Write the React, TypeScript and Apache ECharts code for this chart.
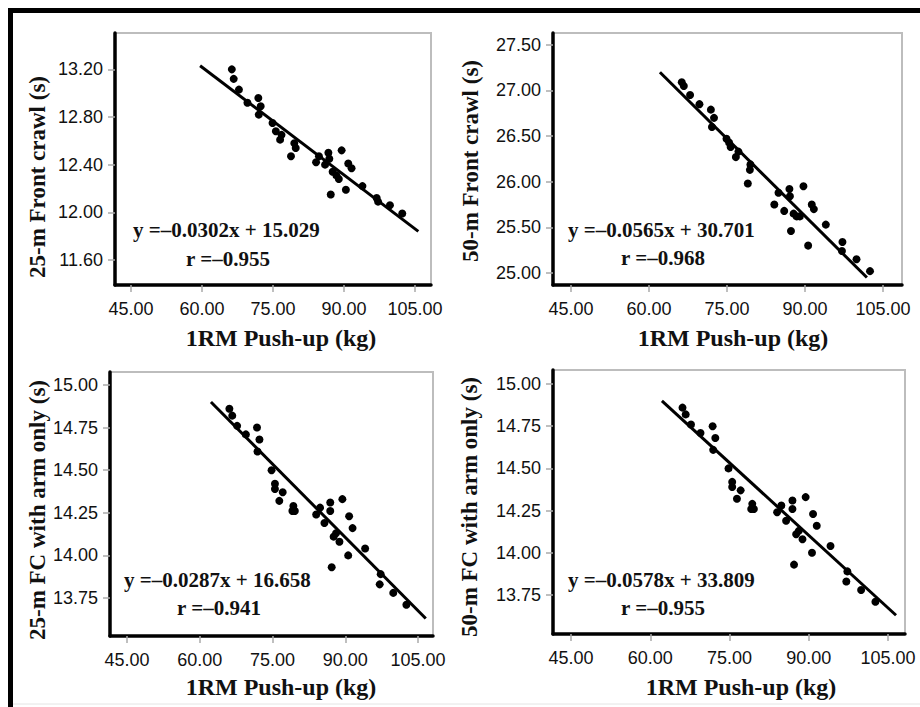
import React, { useEffect, useRef } from "react";
import * as echarts from "echarts";

// Shared x tick labels (1RM Push-up, kg)
const xTickValues = [45, 60, 75, 90, 105];

// Panel 1: 25-m Front crawl
const p1X = [66.3, 66.7, 67.8, 69.6, 71.9, 72.4, 72.0, 74.9, 75.6, 76.8, 76.5, 79.5, 79.8, 78.8, 84.1, 84.7, 86.0, 86.7, 86.9, 89.5, 87.6, 88.4, 88.9, 90.9, 91.6, 87.2, 90.4, 93.9, 96.9, 97.2, 99.7, 102.3];
const p1Y = [13.2, 13.12, 13.03, 12.92, 12.96, 12.89, 12.82, 12.75, 12.68, 12.65, 12.61, 12.58, 12.54, 12.47, 12.42, 12.47, 12.4, 12.5, 12.45, 12.52, 12.34, 12.31, 12.28, 12.41, 12.37, 12.15, 12.19, 12.22, 12.12, 12.09, 12.06, 11.99];
const p1YTicks = [11.6, 12.0, 12.4, 12.8, 13.2];
const p1FitX = [59.6, 105.7];
const p1FitY = [13.23, 11.84];

// Panel 2: 50-m Front crawl
const p2X = [66.3, 66.7, 67.9, 69.7, 71.9, 72.5, 72.1, 74.9, 75.4, 75.7, 77.2, 76.7, 79.5, 79.4, 79.0, 84.9, 84.1, 87.0, 87.1, 89.7, 86.0, 87.8, 88.4, 89.0, 91.3, 91.7, 87.3, 90.6, 94.0, 97.2, 97.1, 99.9, 102.5];
const p2Y = [27.09, 27.05, 26.95, 26.85, 26.79, 26.7, 26.6, 26.47, 26.43, 26.38, 26.33, 26.27, 26.19, 26.13, 25.98, 25.88, 25.75, 25.92, 25.84, 25.95, 25.68, 25.65, 25.62, 25.62, 25.75, 25.7, 25.46, 25.3, 25.53, 25.34, 25.24, 25.15, 25.02];
const p2YTicks = [25.0, 25.5, 26.0, 26.5, 27.0, 27.5];
const p2FitX = [62.1, 101.9];
const p2FitY = [27.2, 24.95];

// Panel 3: 25-m FC with arm only
const p3X = [66.1, 66.7, 67.7, 69.5, 71.8, 72.3, 71.9, 74.8, 75.5, 75.5, 77.1, 76.4, 79.3, 79.1, 79.6, 84.0, 84.8, 86.9, 86.9, 89.4, 85.7, 87.6, 88.1, 88.8, 90.8, 91.5, 87.2, 90.6, 94.1, 97.3, 97.1, 99.9, 102.6];
const p3Y = [14.86, 14.82, 14.76, 14.71, 14.75, 14.68, 14.61, 14.5, 14.42, 14.39, 14.37, 14.32, 14.29, 14.26, 14.26, 14.24, 14.28, 14.31, 14.26, 14.33, 14.19, 14.11, 14.13, 14.08, 14.23, 14.16, 13.93, 14.0, 14.04, 13.89, 13.83, 13.78, 13.71];
const p3YTicks = [13.75, 14.0, 14.25, 14.5, 14.75, 15.0];
const p3FitX = [62.3, 106.6];
const p3FitY = [14.9, 13.63];

// Panel 4: 50-m FC with arm only
const p4X = p3X;
const p4Y = p3Y;
const p4YTicks = [13.75, 14.0, 14.25, 14.5, 14.75, 15.0];
const p4FitX = [62.2, 106.5];
const p4FitY = [14.9, 13.63];

const xTitle = "1RM Push-up (kg)";
const yTitles = ["25-m Front crawl (s)", "50-m Front crawl (s)", "25-m FC with arm only (s)", "50-m FC with arm only (s)"];
const eqTexts = ["y =\u20130.0302x + 15.029", "y =\u20130.0565x + 30.701", "y =\u20130.0287x + 16.658", "y =\u20130.0578x + 33.809"];
const rTexts = ["r =\u20130.955", "r =\u20130.968", "r =\u20130.941", "r =\u20130.955"];

const TICK_FONT = "'Liberation Sans', Arial, sans-serif";
const SERIF = "'Liberation Serif', 'Times New Roman', serif";

const panels = [
  { xs: p1X, ys: p1Y, yTicks: p1YTicks, fitX: p1FitX, fitY: p1FitY,
    grid: { left: 115, top: 33, width: 316, height: 252 },
    xMin: 41.62, xMax: 108.38, yMin: 11.39, yMax: 13.505,
    yNameGap: 66, yNamePad: [0, 36, 0, 0], xNameGap: 41, xNamePad: [0, 0, 0, 16],
    eq: { x: 133, y: 230 }, r: { x: 186, y: 259 } },
  { xs: p2X, ys: p2Y, yTicks: p2YTicks, fitX: p2FitX, fitY: p2FitY,
    grid: { left: 553, top: 33, width: 349, height: 252 },
    xMin: 41.54, xMax: 108.65, yMin: 24.868, yMax: 27.63,
    yNameGap: 71, yNamePad: [0, 4, 0, 0], xNameGap: 41, xNamePad: [0, 0, 0, 11],
    eq: { x: 568, y: 230 }, r: { x: 621, y: 258 } },
  { xs: p3X, ys: p3Y, yTicks: p3YTicks, fitX: p3FitX, fitY: p3FitY,
    grid: { left: 110, top: 372, width: 323, height: 264 },
    xMin: 41.49, xMax: 108.09, yMin: 13.527, yMax: 15.076,
    yNameGap: 61, yNamePad: [0, 12, 0, 0], xNameGap: 39, xNamePad: [0, 0, 0, 19],
    eq: { x: 124, y: 580 }, r: { x: 177, y: 608 } },
  { xs: p4X, ys: p4Y, yTicks: p4YTicks, fitX: p4FitX, fitY: p4FitY,
    grid: { left: 553, top: 370, width: 352, height: 264 },
    xMin: 41.59, xMax: 108.2, yMin: 13.519, yMax: 15.083,
    yNameGap: 72, yNamePad: [0, 10, 0, 0], xNameGap: 41, xNamePad: [0, 0, 0, 24],
    eq: { x: 568, y: 580 }, r: { x: 621, y: 608 } },
];

export default function App() {
  const ref = useRef<HTMLDivElement>(null);
  useEffect(() => {
    if (!ref.current) return;
    const chart = echarts.init(ref.current, undefined, { renderer: "svg" });
    const grids: any[] = [];
    const xAxes: any[] = [];
    const yAxes: any[] = [];
    const series: any[] = [];
    const graphics: any[] = [];
    panels.forEach((p, i) => {
      grids.push({ ...p.grid, show: true, borderColor: "#bdbdbd", borderWidth: 2, backgroundColor: "#fff" });
      xAxes.push({
        type: "value", gridIndex: i, min: p.xMin, max: p.xMax,
        splitLine: { show: false },
        axisLine: { show: true, onZero: false, lineStyle: { color: "#000", width: 3.5 } },
        axisTick: { show: true, customValues: xTickValues, length: 7, lineStyle: { color: "#aaa", width: 1.5 } },
        axisLabel: { show: true, customValues: xTickValues, margin: 15, color: "#111", fontFamily: TICK_FONT, fontSize: 18,
          formatter: (v: number) => v.toFixed(2) },
        name: xTitle, nameLocation: "middle", nameGap: p.xNameGap,
        nameTextStyle: { fontFamily: SERIF, fontWeight: "bold", fontSize: 24, color: "#111", padding: p.xNamePad },
      });
      yAxes.push({
        type: "value", gridIndex: i, min: p.yMin, max: p.yMax,
        splitLine: { show: false },
        axisLine: { show: true, onZero: false, lineStyle: { color: "#000", width: 3.5 } },
        axisTick: { show: true, customValues: p.yTicks, length: 7, lineStyle: { color: "#aaa", width: 1.5 } },
        axisLabel: { show: true, customValues: p.yTicks, margin: 12, color: "#111", fontFamily: TICK_FONT, fontSize: 18,
          formatter: (v: number) => v.toFixed(2) },
        name: yTitles[i], nameLocation: "middle", nameGap: p.yNameGap,
        nameTextStyle: { fontFamily: SERIF, fontWeight: "bold", fontSize: 23, color: "#111", padding: p.yNamePad },
      });
      series.push({
        type: "line", xAxisIndex: i, yAxisIndex: i, symbol: "none",
        data: p.fitX.map((x, k) => [x, p.fitY[k]]),
        lineStyle: { color: "#000", width: 3 }, z: 2,
      });
      series.push({
        type: "scatter", xAxisIndex: i, yAxisIndex: i, symbolSize: 8,
        data: p.xs.map((x, k) => [x, p.ys[k]]),
        itemStyle: { color: "#000", opacity: 1 }, z: 3,
      });
      graphics.push({
        type: "text", x: p.eq.x, y: p.eq.y, z: 10,
        style: { text: eqTexts[i], fontFamily: SERIF, fontWeight: "bold", fontSize: 21, fill: "#111", verticalAlign: "middle", align: "left" },
      });
      graphics.push({
        type: "text", x: p.r.x, y: p.r.y, z: 10,
        style: { text: rTexts[i], fontFamily: SERIF, fontWeight: "bold", fontSize: 21, fill: "#111", verticalAlign: "middle", align: "left" },
      });
    });
    // outer frame (top and left black rules)
    graphics.push({ type: "line", shape: { x1: 8, y1: 10.5, x2: 920, y2: 10.5 }, style: { stroke: "#000", lineWidth: 5 } });
    graphics.push({ type: "line", shape: { x1: 10.5, y1: 8, x2: 10.5, y2: 707 }, style: { stroke: "#000", lineWidth: 5 } });
    graphics.push({ type: "line", shape: { x1: 13, y1: 704, x2: 920, y2: 704 }, style: { stroke: "#e4e4e4", lineWidth: 1 } });

    chart.setOption({
      animation: false,
      backgroundColor: "#fff",
      grid: grids,
      xAxis: xAxes,
      yAxis: yAxes,
      series,
      graphic: graphics,
    });
    return () => chart.dispose();
  }, []);
  return <div ref={ref} style={{ position: "absolute", left: 0, top: 0, width: 920, height: 707 }} />;
}
